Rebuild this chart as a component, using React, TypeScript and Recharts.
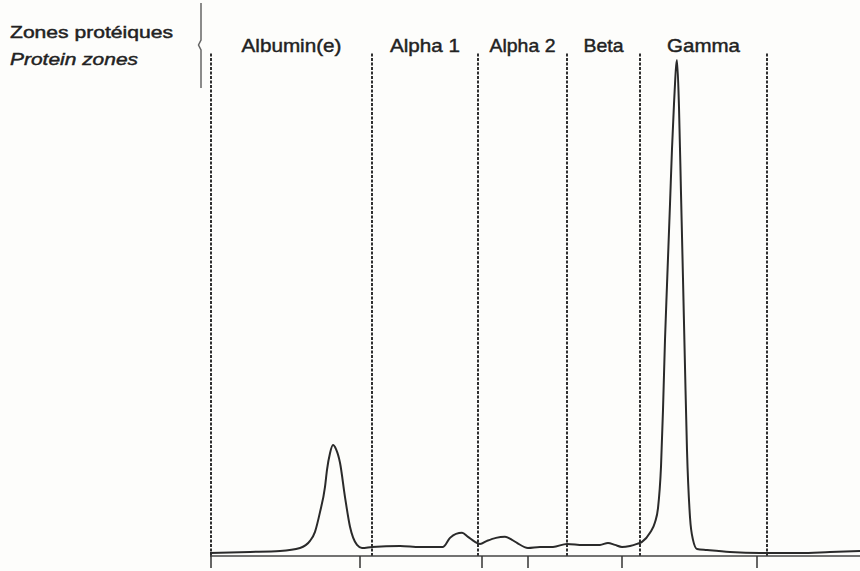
import React from 'react';
import { LineChart, Line, XAxis, YAxis, ReferenceLine } from 'recharts';

// Relative migration distance (arbitrary units) and absorbance (% of max scale)
const mobility = [
  0, 40, 70, 90, 100, 105, 110, 115, 117, 120, 123, 126, 130, 135, 140, 147, 152,
  162, 190, 210, 233, 240, 246, 252, 258, 265, 270, 277, 286, 295, 302, 307, 318,
  330, 343, 357, 373, 390, 398, 405, 412, 420, 427, 432, 440, 445, 448, 451, 453,
  455, 457, 460, 462, 464, 467, 469, 471, 473, 475, 477, 480, 483,
  487, 497, 520, 550, 590, 620, 650,
];
const absorbance = [
  0.6, 0.8, 1.0, 1.6, 3.0, 4.8, 8.7, 13.7, 17.1, 20.4, 22.0, 21.2, 18.5, 11.7, 5.8, 2.2, 1.6,
  1.8, 2.0, 1.8, 1.8, 3.6, 4.4, 4.6, 3.8, 2.8, 2.4, 3.0, 3.6, 3.8, 3.2, 2.6, 1.6,
  1.8, 1.8, 2.4, 2.2, 2.2, 2.6, 2.2, 1.8, 2.0, 2.4, 2.8, 4.6, 6.7, 9.5, 17.7, 29.0,
  42.9, 53.8, 69.8, 80.8, 89.7, 98.4, 89.0, 72.0, 55.0, 37.5, 21.0, 7.7, 3.2,
  1.4, 1.2, 0.8, 0.6, 0.6, 0.8, 1.0,
];

// Zone boundaries (dashed lines) and zone names
const zoneBoundaries = [1, 162, 268, 357, 430, 557];
const zoneNames = ['Albumin(e)', 'Alpha 1', 'Alpha 2', 'Beta', 'Gamma'];
// Bottom axis tick marks (integration cut points)
const cutTicks = [1, 150, 272, 318, 412, 547];

const titleFr = 'Zones protéiques';
const titleEn = 'Protein zones';

const data = mobility.map((m, i) => ({ m, a: absorbance[i] }));
const zoneCenters = zoneNames.map((_, i) => (zoneBoundaries[i] + zoneBoundaries[i + 1]) / 2);

const labelWidths: Record<string, number> = {
  'Albumin(e)': 100,
  'Alpha 1': 70,
  'Alpha 2': 66,
  Beta: 40,
  Gamma: 73,
};

const textStyle = {
  fontFamily: '"Liberation Sans", Arial, Helvetica, sans-serif',
  fill: '#222',
  stroke: '#222',
  strokeWidth: 0.45,
};

const ZoneTick = (props: any) => {
  const { x, y, payload } = props;
  const idx = zoneCenters.indexOf(payload.value);
  const name = zoneNames[idx] ?? '';
  return (
    <text
      x={x}
      y={y}
      textAnchor="middle"
      fontSize={19}
      textLength={labelWidths[name]}
      lengthAdjust="spacingAndGlyphs"
      style={textStyle}
    >
      {name}
    </text>
  );
};

const EmptyTick = () => <g />;

export default function App() {
  return (
    <div
      style={{
        position: 'absolute',
        left: 0,
        top: 0,
        width: 860,
        height: 571,
        background: '#fdfdfb',
        overflow: 'hidden',
      }}
    >
      <LineChart
        width={860}
        height={571}
        data={data}
        margin={{ top: 22, right: 0, bottom: 0, left: 210 }}
      >
        <XAxis
          xAxisId="zones"
          orientation="top"
          type="number"
          dataKey="m"
          domain={[0, 650]}
          ticks={zoneCenters}
          tick={<ZoneTick />}
          tickSize={0}
          tickMargin={0}
          axisLine={false}
          tickLine={false}
          height={30}
          interval={0}
          allowDataOverflow
        />
        <XAxis
          type="number"
          dataKey="m"
          domain={[0, 650]}
          ticks={cutTicks}
          tick={<EmptyTick />}
          tickSize={12}
          tickLine={{ stroke: '#333', strokeWidth: 1.5 }}
          axisLine={{ stroke: '#444', strokeWidth: 1.6 }}
          height={15}
          interval={0}
          allowDataOverflow
        />
        <YAxis hide type="number" domain={[0, 100]} allowDataOverflow />
        {zoneBoundaries.map((b) => (
          <ReferenceLine
            key={b}
            x={b}
            stroke="#1a1a1a"
            strokeWidth={1.8}
            strokeDasharray="3 1.5"
          />
        ))}
        <Line
          type="monotone"
          dataKey="a"
          stroke="#2a2a2a"
          strokeWidth={2}
          dot={false}
          isAnimationActive={false}
        />
      </LineChart>
      <svg
        width={860}
        height={571}
        style={{ position: 'absolute', left: 0, top: 0, pointerEvents: 'none' }}
      >
        <text x={10} y={38} fontSize={17} textLength={163} lengthAdjust="spacingAndGlyphs" style={textStyle}>
          {titleFr}
        </text>
        <text
          x={10}
          y={65}
          fontSize={17}
          fontStyle="italic"
          textLength={128}
          lengthAdjust="spacingAndGlyphs"
          style={textStyle}
        >
          {titleEn}
        </text>
        <path d="M201 3 L201 40 L198.5 45 L201 50 L201 88" fill="none" stroke="#666" strokeWidth={1.5} />
      </svg>
    </div>
  );
}
